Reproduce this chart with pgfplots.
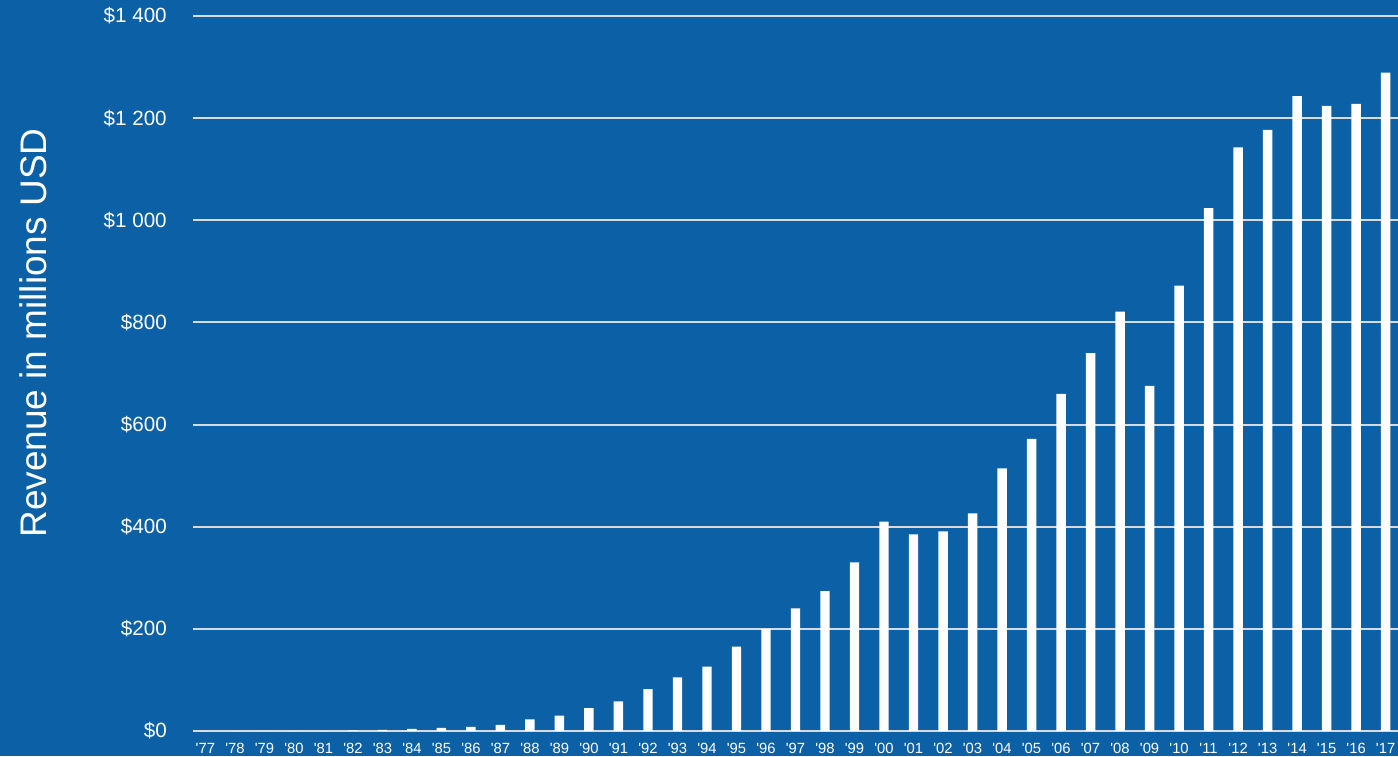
\documentclass[border=0pt]{standalone}
\usepackage{fontspec}
\setmainfont{Liberation Sans}
\usepackage{pgfplots}
\pgfplotsset{compat=1.18}
\definecolor{bgblue}{RGB}{12,96,165}
\definecolor{gridgray}{RGB}{215,218,222}
\begin{document}
\begin{tikzpicture}
\fill[bgblue] (-96.5pt,-12.5pt) rectangle (602.5pt,365.5pt);
\begin{axis}[
  at={(0,0)}, anchor=south west,
  scale only axis,
  width=602.5pt, height=357.5pt,
  xmin=76.58, xmax=117.42,
  ymin=0, ymax=1400,
  axis line style={draw=none},
  major tick length=0pt,
  ymajorgrids,
  grid style={draw=gridgray, line width=1pt},
  ytick={0,200,400,600,800,1000,1200,1400},
  yticklabels={\$0,\$200,\$400,\$600,\$800,\$1 000,\$1 200,\$1 400},
  yticklabel style={font=\fontsize{10.3}{12}\selectfont, text=white, anchor=east, xshift=-9.6pt},
  xtick={77,...,117},
  xticklabels={\textquotesingle77,\textquotesingle78,\textquotesingle79,\textquotesingle80,\textquotesingle81,\textquotesingle82,\textquotesingle83,\textquotesingle84,\textquotesingle85,\textquotesingle86,\textquotesingle87,\textquotesingle88,\textquotesingle89,\textquotesingle90,\textquotesingle91,\textquotesingle92,\textquotesingle93,\textquotesingle94,\textquotesingle95,\textquotesingle96,\textquotesingle97,\textquotesingle98,\textquotesingle99,\textquotesingle00,\textquotesingle01,\textquotesingle02,\textquotesingle03,\textquotesingle04,\textquotesingle05,\textquotesingle06,\textquotesingle07,\textquotesingle08,\textquotesingle09,\textquotesingle10,\textquotesingle11,\textquotesingle12,\textquotesingle13,\textquotesingle14,\textquotesingle15,\textquotesingle16,\textquotesingle17},
  xticklabel style={font=\fontsize{7.4}{8}\selectfont, text=white, anchor=base, yshift=-11.2pt},
  ylabel={Revenue in millions USD},
  ylabel style={font=\fontsize{18.5}{22}\selectfont, text=white, at={(rel axis cs:-0.1328,0.5566)}, anchor=center},
  clip=false,
]
\addplot[ybar, bar width=0.32, fill=white, draw=none] coordinates {
(77,0) (78,0) (79,0) (80,0) (81,0) (82,1) (83,2) (84,4) (85,6) (86,8)
(87,12) (88,23) (89,30) (90,45) (91,58) (92,82) (93,105) (94,126) (95,165) (96,200)
(97,240) (98,274) (99,330) (100,410) (101,385) (102,391) (103,426) (104,514) (105,572) (106,660)
(107,740) (108,821) (109,676) (110,872) (111,1024) (112,1143) (113,1177) (114,1243) (115,1224) (116,1228)
(117,1289)
};
\end{axis}
\pgfresetboundingbox
\useasboundingbox (-96.5pt,-12.5pt) rectangle (602.5pt,365.5pt);
\end{tikzpicture}
\end{document}
